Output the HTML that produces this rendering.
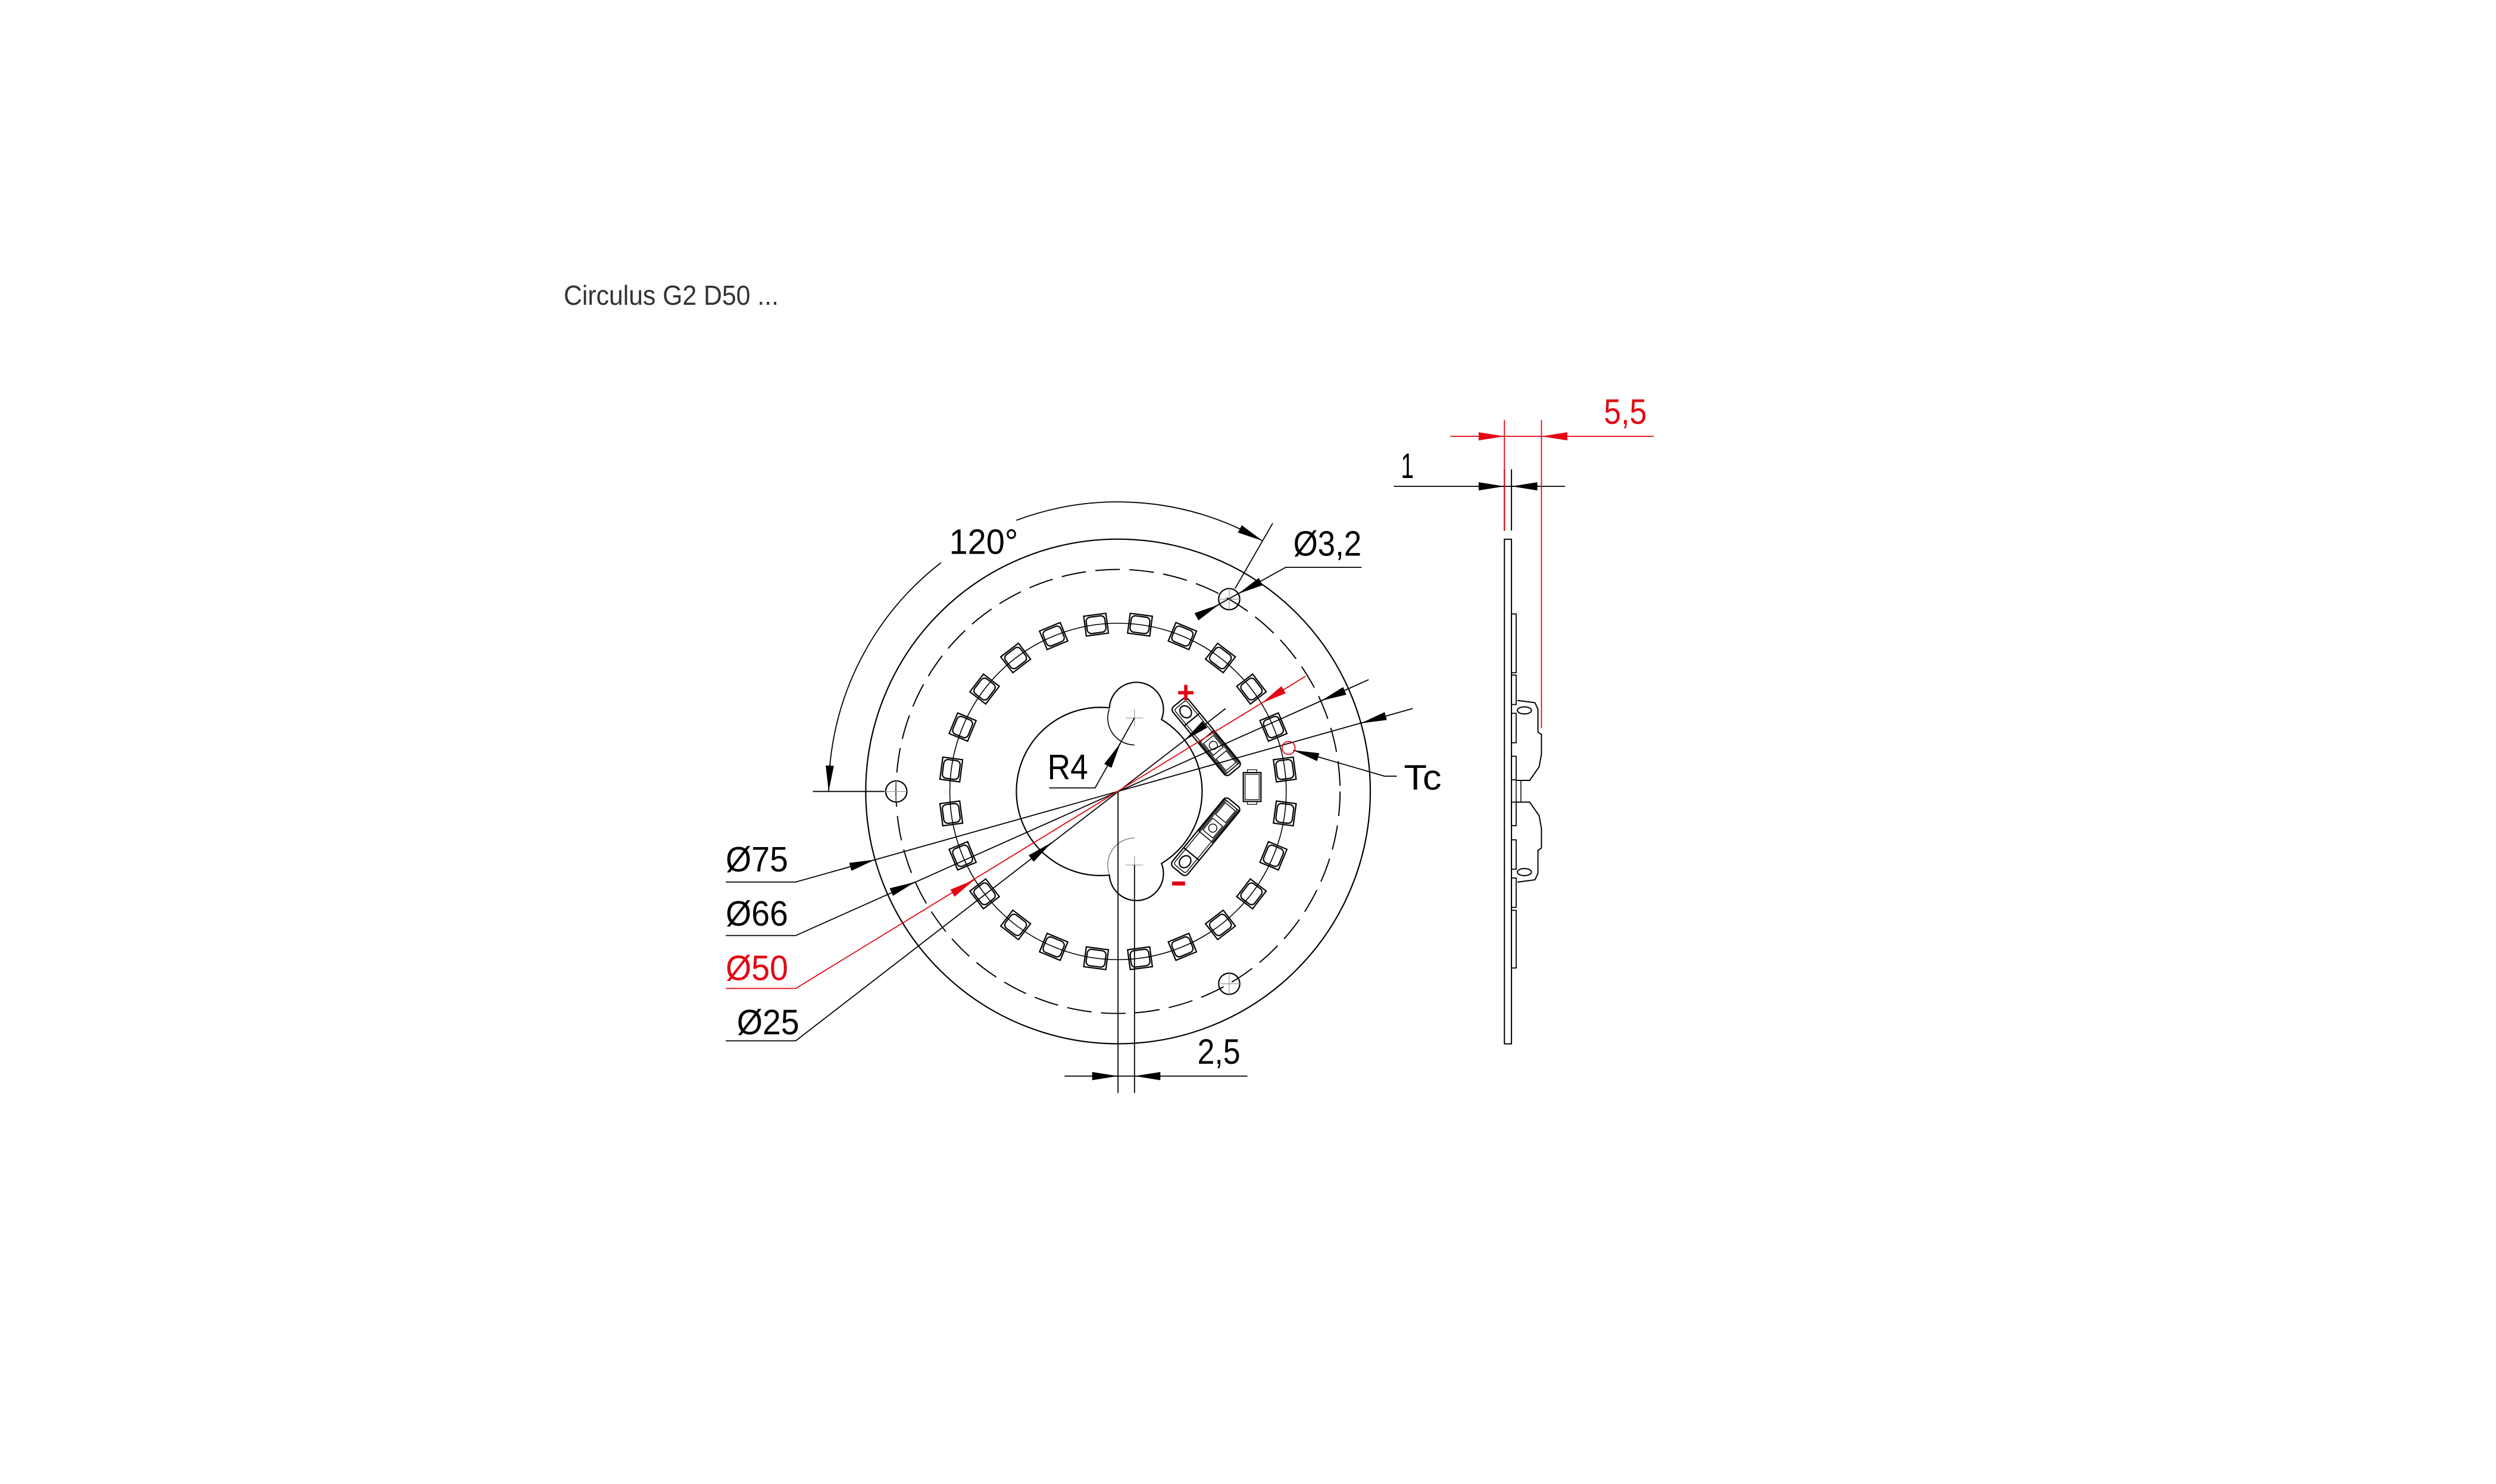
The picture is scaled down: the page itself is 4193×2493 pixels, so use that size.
<!DOCTYPE html>
<html><head><meta charset="utf-8"><style>
html,body{margin:0;padding:0;background:#fff;}
svg{display:block;}
text{font-family:"Liberation Sans",sans-serif;}
</style></head><body>
<svg width="4193" height="2493" viewBox="0 0 4193 2493" xmlns="http://www.w3.org/2000/svg">
<defs>
<marker id="ab" markerUnits="userSpaceOnUse" markerWidth="46" markerHeight="16" refX="44" refY="7" orient="auto"><path d="M0,0 L44,7 L0,14 z" fill="#000"/></marker>
<marker id="ar" markerUnits="userSpaceOnUse" markerWidth="46" markerHeight="16" refX="44" refY="7" orient="auto"><path d="M0,0 L44,7 L0,14 z" fill="#e30613"/></marker>
<g id="led" fill="none" stroke="#000" stroke-width="2.2">
<rect x="2156" y="1317" width="34" height="38"/>
<rect x="2159" y="1320" width="28" height="32" rx="7"/>
</g>
</defs>

<text x="947" y="512" font-size="46" fill="#333" textLength="361" lengthAdjust="spacingAndGlyphs">Circulus G2 D50 ...</text>

<g transform="translate(1150,800) scale(0.988) translate(-1150,-800)">
<g fill="none" stroke="#000" stroke-width="2.2">
<circle cx="1887" cy="1336" r="429"/>
<circle cx="1887" cy="1336" r="377.5" stroke-dasharray="42 16" stroke-width="2"/>
<circle cx="1887" cy="1336" r="286" stroke-width="1.6"/>
<circle cx="1510" cy="1336" r="18"/>
<circle cx="2076" cy="1009" r="18"/>
<circle cx="2076" cy="1663" r="18"/>
<path d="M1492,1336 h36 M1510,1318 v36 M2058,1009 h36 M2076,991 v36 M2058,1663 h36 M2076,1645 v36" stroke="#999" stroke-width="1.2"/>
<path d="M1872.3,1193.8 A46,46 0 1 1 1960.9,1213.6 A143,143 0 0 1 1960.9,1458.4 A46,46 0 1 1 1872.3,1478.2 A143,143 0 1 1 1872.3,1193.8 Z"/>
<path d="M1872,1196 A46,46 0 0 0 1915,1257" stroke-width="1.6"/>
<path d="M1872,1476 A46,46 0 0 1 1915,1415" stroke-width="1.6" stroke="#888"/>
<path d="M1915,1196 v30 M1900,1211 h30 M1915,1446 v30 M1900,1461 h30" stroke-width="1.2" stroke="#999"/>
</g>

<g>
<use href="#led" transform="rotate(-7.5 1887 1336)"/>
<use href="#led" transform="rotate(-22.5 1887 1336)"/>
<use href="#led" transform="rotate(-37.5 1887 1336)"/>
<use href="#led" transform="rotate(-52.5 1887 1336)"/>
<use href="#led" transform="rotate(-67.5 1887 1336)"/>
<use href="#led" transform="rotate(-82.5 1887 1336)"/>
<use href="#led" transform="rotate(-97.5 1887 1336)"/>
<use href="#led" transform="rotate(-112.5 1887 1336)"/>
<use href="#led" transform="rotate(-127.5 1887 1336)"/>
<use href="#led" transform="rotate(-142.5 1887 1336)"/>
<use href="#led" transform="rotate(-157.5 1887 1336)"/>
<use href="#led" transform="rotate(-172.5 1887 1336)"/>
<use href="#led" transform="rotate(7.5 1887 1336)"/>
<use href="#led" transform="rotate(22.5 1887 1336)"/>
<use href="#led" transform="rotate(37.5 1887 1336)"/>
<use href="#led" transform="rotate(52.5 1887 1336)"/>
<use href="#led" transform="rotate(67.5 1887 1336)"/>
<use href="#led" transform="rotate(82.5 1887 1336)"/>
<use href="#led" transform="rotate(97.5 1887 1336)"/>
<use href="#led" transform="rotate(112.5 1887 1336)"/>
<use href="#led" transform="rotate(127.5 1887 1336)"/>
<use href="#led" transform="rotate(142.5 1887 1336)"/>
<use href="#led" transform="rotate(157.5 1887 1336)"/>
<use href="#led" transform="rotate(172.5 1887 1336)"/>
</g>

<g fill="none" stroke="#000" stroke-width="2.2">
<g transform="translate(2037,1243) rotate(50.5)">
<rect x="-75" y="-17" width="150" height="34" rx="7"/>
<rect x="-70" y="-13" width="140" height="26" rx="4" stroke-width="1.4"/>
<ellipse cx="-55" cy="0" rx="11" ry="9"/>
<line x1="-38" y1="-17" x2="-38" y2="17"/>
<rect x="0" y="-15" width="70" height="30" stroke-width="1.6"/>
<rect x="6" y="-11" width="26" height="22" stroke-width="1.4"/>
<circle cx="19" cy="0" r="7" stroke-width="1.4"/>
<rect x="40" y="-11" width="26" height="22" stroke-width="1.4"/>
</g>
<g transform="translate(2036,1413) rotate(-50.5)">
<rect x="-75" y="-17" width="150" height="34" rx="7"/>
<rect x="-70" y="-13" width="140" height="26" rx="4" stroke-width="1.4"/>
<ellipse cx="-55" cy="0" rx="11" ry="9"/>
<line x1="-38" y1="-17" x2="-38" y2="17"/>
<rect x="0" y="-15" width="70" height="30" stroke-width="1.6"/>
<rect x="6" y="-11" width="26" height="22" stroke-width="1.4"/>
<circle cx="19" cy="0" r="7" stroke-width="1.4"/>
<rect x="40" y="-11" width="26" height="22" stroke-width="1.4"/>
</g>
<rect x="2100" y="1304" width="30" height="49"/>
<rect x="2103" y="1307" width="24" height="43" stroke-width="1.2"/>
<rect x="2107" y="1299" width="16" height="5" stroke-width="1.2"/>
<rect x="2107" y="1353" width="16" height="5" stroke-width="1.2"/>
</g>
<text x="1987" y="1185" font-size="52" font-weight="bold" fill="#e30613">+</text>
<rect x="1979" y="1489" width="22" height="7" fill="#e30613"/>

<g stroke="#000" stroke-width="1.8" fill="none">
<polyline points="1220,1490 1339,1490 2388,1195"/>
<line x1="1436" y1="1463" x2="1474" y2="1452" marker-end="url(#ab)"/>
<line x1="2338" y1="1209" x2="2300" y2="1220" marker-end="url(#ab)"/>
<polyline points="1220,1581 1339,1581 2313,1146"/>
<line x1="1504" y1="1506" x2="1542" y2="1490" marker-end="url(#ab)"/>
<line x1="2270" y1="1166" x2="2232" y2="1182" marker-end="url(#ab)"/>
<polyline points="1220,1760 1339,1760 2070,1195"/>
<line x1="1742" y1="1448" x2="1774" y2="1423" marker-end="url(#ab)"/>
<line x1="2032" y1="1224" x2="2000" y2="1249" marker-end="url(#ab)"/>
<polyline points="1770,1330 1848,1330 1915,1211"/>
<line x1="1870" y1="1292" x2="1891" y2="1254" marker-end="url(#ab)"/>
<path d="M1586,947 A492,492 0 0 0 1397,1293"/>
<line x1="1397" y1="1290" x2="1395" y2="1336" marker-end="url(#ab)"/>
<path d="M1714,875 A492,492 0 0 1 2095,890"/>
<line x1="2093" y1="889" x2="2133" y2="910" marker-end="url(#ab)"/>
<line x1="1368" y1="1336" x2="1490" y2="1336"/>
<line x1="2086" y1="991" x2="2150" y2="880"/>
<polyline points="2024,1037 2172,955 2301,955"/>
<line x1="2024" y1="1037" x2="2059" y2="1018" marker-end="url(#ab)"/>
<line x1="2128" y1="980" x2="2091" y2="1000" marker-end="url(#ab)"/>
<polyline points="2223,1276 2340,1310 2361,1310"/>
<line x1="2225" y1="1277" x2="2185" y2="1266" marker-end="url(#ab)"/>
<line x1="1887" y1="1336" x2="1887" y2="1849"/>
<line x1="1915" y1="1461" x2="1915" y2="1849"/>
<line x1="1796" y1="1820" x2="2107" y2="1820"/>
<line x1="1842" y1="1820" x2="1887" y2="1820" marker-end="url(#ab)"/>
<line x1="1960" y1="1820" x2="1915" y2="1820" marker-end="url(#ab)"/>
</g>
<g stroke="#e30613" stroke-width="1.8" fill="none">
<polyline points="1220,1671 1339,1671 2206,1140"/>
<line x1="1607" y1="1508" x2="1643" y2="1486" marker-end="url(#ar)"/>
<line x1="2167" y1="1164" x2="2131" y2="1186" marker-end="url(#ar)"/>
<circle cx="2177" cy="1262" r="11"/>
</g>

<g font-size="60" fill="#000">
<text x="1220" y="1472" textLength="106" lengthAdjust="spacingAndGlyphs">Ø75</text>
<text x="1220" y="1564" textLength="106" lengthAdjust="spacingAndGlyphs">Ø66</text>
<text x="1220" y="1657" textLength="106" lengthAdjust="spacingAndGlyphs" fill="#e30613">Ø50</text>
<text x="1239" y="1749" textLength="106" lengthAdjust="spacingAndGlyphs">Ø25</text>
<text x="1767" y="1315" textLength="69" lengthAdjust="spacingAndGlyphs">R4</text>
<text x="1600" y="932" textLength="117" lengthAdjust="spacingAndGlyphs">120°</text>
<text x="2185" y="935" textLength="116" lengthAdjust="spacingAndGlyphs">Ø3,2</text>
<text x="2373" y="1333" textLength="64" lengthAdjust="spacingAndGlyphs">Tc</text>
<text x="2022" y="1799" textLength="73" lengthAdjust="spacingAndGlyphs">2,5</text>
</g>
</g>

<g transform="translate(2300,650) scale(0.988) translate(-2300,-650)">
<g font-size="60">
<text x="2354" y="805" textLength="22" lengthAdjust="spacingAndGlyphs" fill="#000">1</text>
<text x="2699" y="713" textLength="73" lengthAdjust="spacingAndGlyphs" fill="#e30613">5,5</text>
</g>
<g fill="none" stroke="#000" stroke-width="2">
<rect x="2530" y="909" width="12" height="858"/>
<line x1="2530" y1="790" x2="2530" y2="894"/>
<line x1="2542" y1="790" x2="2542" y2="894"/>
<line x1="2342" y1="819" x2="2633" y2="819" stroke-width="1.8"/>
<line x1="2485" y1="819" x2="2530" y2="819" marker-end="url(#ab)"/>
<line x1="2588" y1="819" x2="2542" y2="819" marker-end="url(#ab)"/>
<g stroke-width="1.8">
<rect x="2542" y="1036" width="8" height="100"/>
<rect x="2542" y="1140" width="8" height="50"/>
<rect x="2542" y="1205" width="8" height="50"/>
<rect x="2542" y="1278" width="8" height="40"/>
<rect x="2542" y="1356" width="8" height="40"/>
<rect x="2542" y="1420" width="8" height="50"/>
<rect x="2542" y="1485" width="8" height="50"/>
<rect x="2542" y="1540" width="8" height="98"/>
</g>
<path d="M2552,1183 L2582,1187 L2587,1198 L2587,1237 L2593,1241 L2593,1274 L2589,1296 L2573,1319 L2550,1319"/>
<ellipse cx="2564" cy="1200" rx="12" ry="6"/>
<path d="M2552,1492 L2582,1488 L2587,1477 L2587,1438 L2593,1434 L2593,1401 L2589,1379 L2573,1356 L2550,1356"/>
<ellipse cx="2564" cy="1475" rx="12" ry="6"/>
<rect x="2550" y="1319" width="8" height="37" stroke-width="1.5"/>
</g>
<g stroke="#e30613" stroke-width="1.8" fill="none">
<line x1="2530" y1="706" x2="2530" y2="895"/>
<line x1="2593" y1="706" x2="2593" y2="1230"/>
<line x1="2438" y1="734" x2="2784" y2="734"/>
<line x1="2485" y1="734" x2="2530" y2="734" marker-end="url(#ar)"/>
<line x1="2639" y1="734" x2="2593" y2="734" marker-end="url(#ar)"/>
</g>
</g>
</svg>
</body></html>
